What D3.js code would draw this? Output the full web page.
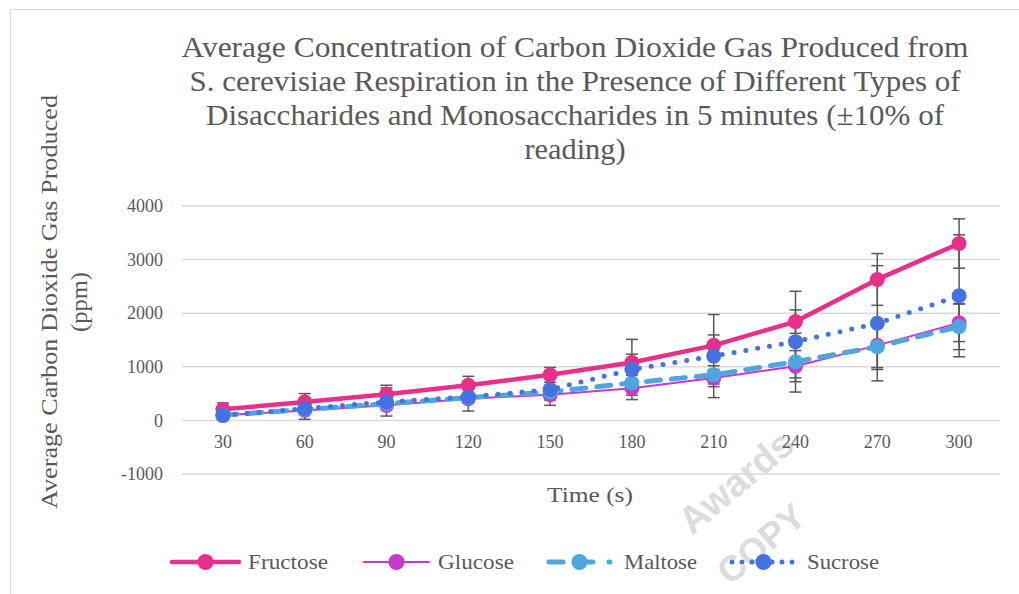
<!DOCTYPE html>
<html>
<head>
<meta charset="utf-8">
<script src="https://cdn.jsdelivr.net/npm/d3@7"></script>
<style>
  html, body { margin: 0; padding: 0; background: #fff; }
  svg { display: block; }
  text { font-family: "Liberation Serif", "DejaVu Serif", serif; fill: #595959; }
</style>
</head>
<body>
<svg id="chart" width="1019" height="594"></svg>
<script>
// ---- data ----
const categories = ["30", "60", "90", "120", "150", "180", "210", "240", "270", "300"];
const fructose    = [206, 343, 486, 654, 850, 1080, 1400, 1843, 2630, 3300];
const fructoseErr = [120, 157, 170, 169, 138, 156, 194, 218, 483, 460];
const glucose     = [94, 187, 281, 406, 480, 600, 790, 1012, 1400, 1820];
const glucoseErr  = [20, 40, 60, 80, 100, 130, 160, 290, 450, 350];
const maltose     = [100, 200, 312, 425, 530, 700, 850, 1094, 1375, 1750];
const maltoseErr  = [20, 40, 60, 80, 100, 140, 170, 300, 390, 430];
const sucrose     = [94, 219, 344, 438, 575, 950, 1200, 1469, 1812, 2325];
const sucroseErr  = [80, 200, 263, 263, 294, 562, 775, 940, 1075, 1138];
const yTicks = [-1000, 0, 1000, 2000, 3000, 4000];
const seriesNames = ["Fructose", "Glucose", "Maltose", "Sucrose"];
const titleLines = [
  "Average Concentration of Carbon Dioxide Gas Produced from",
  "S. cerevisiae Respiration in the Presence of Different Types of",
  "Disaccharides and Monosaccharides in 5 minutes (\u00B110% of",
  "reading)"
];
const xTitle = "Time (s)";
const yTitleLines = ["Average Carbon Dioxide Gas Produced", "(ppm)"];

// ---- styles ----
const styles = {
  Fructose: { color: "#E6308A", width: 4.5, dash: null, cap: "round" },
  Glucose:  { color: "#C837CF", width: 2,   dash: null, cap: "round" },
  Maltose:  { color: "#4EA6DC", width: 5,   dash: "14,11", cap: "round" },
  Sucrose:  { color: "#4472E0", width: 5,   dash: "0,12", cap: "round" }
};
const series = [
  { name: "Fructose", values: fructose, err: fructoseErr },
  { name: "Glucose",  values: glucose,  err: glucoseErr },
  { name: "Maltose",  values: maltose,  err: maltoseErr },
  { name: "Sucrose",  values: sucrose,  err: sucroseErr }
];

const svg = d3.select("#chart");

// border
svg.append("path")
  .attr("d", "M10.5,594 L10.5,9.5 L1019,9.5")
  .attr("fill", "none").attr("stroke", "#d9d9d9").attr("stroke-width", 1);

// watermark
const wm = svg.append("g");
wm.append("text").attr("transform", "translate(692,536) rotate(-40)")
  .style("font-family", "Liberation Sans, Arial, sans-serif")
  .attr("font-weight", "bold").attr("font-size", 38)
  .style("fill", "#dcdcdc").text("Awards");
wm.append("text").attr("transform", "translate(730,586) rotate(-40)")
  .style("font-family", "Liberation Sans, Arial, sans-serif")
  .attr("font-weight", "bold").attr("font-size", 36)
  .style("fill", "#dcdcdc").text("COPY");

// scales
const x = d3.scaleBand().domain(categories).range([182, 1000]);
const y = d3.scaleLinear().domain([-1000, 4000]).range([474, 206]);
const cx = c => x(c) + x.bandwidth() / 2;

// gridlines
svg.append("g").selectAll("line").data(yTicks).join("line")
  .attr("x1", 182).attr("x2", 1000)
  .attr("y1", d => y(d)).attr("y2", d => y(d))
  .attr("stroke", "#d9d9d9").attr("stroke-width", 1.5);

// y axis labels
const yAxis = d3.axisLeft(y).tickValues(yTicks).tickSize(0).tickPadding(0).tickFormat(d => String(d));
const gy = svg.append("g").attr("transform", "translate(163,0)").call(yAxis);
gy.select(".domain").remove();
gy.selectAll("text").attr("font-size", 18).style("font-family", "Liberation Serif, serif").style("fill", "#595959");

// x axis labels
const xAxis = d3.axisBottom(x).tickSize(0).tickPadding(0);
const gx = svg.append("g").attr("transform", "translate(0,435)").call(xAxis);
gx.select(".domain").remove();
gx.selectAll("text").attr("font-size", 18).style("font-family", "Liberation Serif, serif").style("fill", "#595959");

// error bars
const eg = svg.append("g");
series.forEach(s => {
  categories.forEach((c, i) => {
    const v = s.values[i], e = s.err[i];
    const xc = cx(c);
    eg.append("line").attr("x1", xc).attr("x2", xc).attr("y1", y(v - e)).attr("y2", y(v + e))
      .attr("stroke", "#595959").attr("stroke-width", 1.5);
    [v - e, v + e].forEach(t => {
      eg.append("line").attr("x1", xc - 6).attr("x2", xc + 6).attr("y1", y(t)).attr("y2", y(t))
        .attr("stroke", "#595959").attr("stroke-width", 1.5);
    });
  });
});

// lines and markers
const line = d3.line().x((d, i) => cx(categories[i])).y(d => y(d));
series.forEach(s => {
  const st = styles[s.name];
  svg.append("path").datum(s.values).attr("d", line)
    .attr("fill", "none").attr("stroke", st.color).attr("stroke-width", st.width)
    .attr("stroke-linecap", st.cap).attr("stroke-linejoin", "round")
    .attr("stroke-dasharray", st.dash);
  svg.append("g").selectAll("circle").data(s.values).join("circle")
    .attr("cx", (d, i) => cx(categories[i])).attr("cy", d => y(d)).attr("r", 7.5)
    .attr("fill", st.color);
});

// title
const titleWidths = [787, 771, 738, 101];
const tg = svg.append("g");
titleLines.forEach((t, i) => {
  tg.append("text").attr("x", 575).attr("y", 57 + i * 34)
    .attr("text-anchor", "middle").attr("font-size", 30)
    .attr("textLength", titleWidths[i]).attr("lengthAdjust", "spacingAndGlyphs")
    .text(t);
});

// axis titles
svg.append("text").attr("x", 590).attr("y", 502).attr("text-anchor", "middle")
  .attr("font-size", 21).attr("textLength", 86).attr("lengthAdjust", "spacingAndGlyphs").text(xTitle);
const yTitleWidths = [414, 60];
yTitleLines.forEach((t, i) => {
  svg.append("text").attr("transform", `translate(${57 + i * 30},302) rotate(-90)`)
    .attr("text-anchor", "middle").attr("font-size", 23)
    .attr("textLength", yTitleWidths[i]).attr("lengthAdjust", "spacingAndGlyphs").text(t);
});

// legend
const legendItems = [
  { name: "Fructose", x0: 170, x1: 241, tx: 248, tw: 80 },
  { name: "Glucose",  x0: 362, x1: 431, tx: 438, tw: 76 },
  { name: "Maltose",  x0: 547, x1: 612, tx: 624, tw: 73 },
  { name: "Sucrose",  x0: 730, x1: 797, tx: 807, tw: 72 }
];
const lg = svg.append("g");
legendItems.forEach(it => {
  const st = styles[it.name];
  const ly = 562;
  let dash = st.dash;
  if (it.name === "Maltose") dash = "14,16";
  if (it.name === "Sucrose") dash = "0,10";
  lg.append("line").attr("x1", it.x0 + 2).attr("x2", it.x1 - 2).attr("y1", ly).attr("y2", ly)
    .attr("stroke", st.color).attr("stroke-width", st.width).attr("stroke-linecap", st.cap)
    .attr("stroke-dasharray", dash);
  lg.append("circle").attr("cx", (it.x0 + it.x1) / 2).attr("cy", ly).attr("r", 8).attr("fill", st.color);
  lg.append("text").attr("x", it.tx).attr("y", ly + 7).attr("font-size", 22)
    .attr("textLength", it.tw).attr("lengthAdjust", "spacingAndGlyphs").text(it.name);
});
</script>
</body>
</html>
